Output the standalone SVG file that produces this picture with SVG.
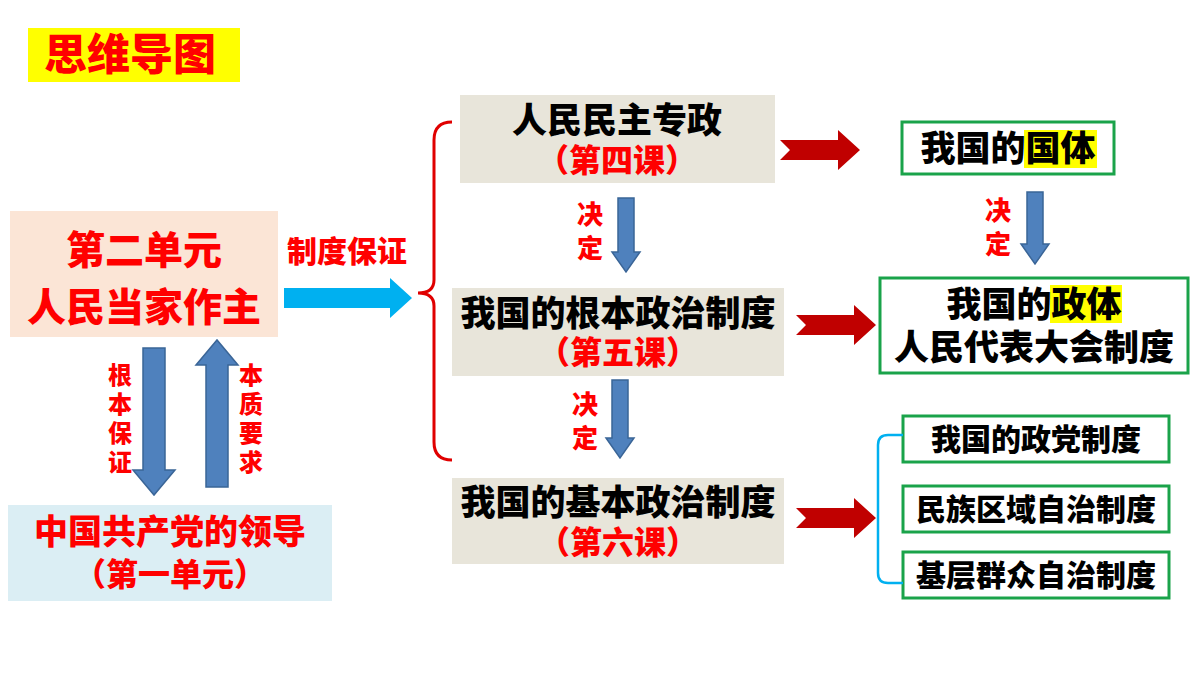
<svg xmlns="http://www.w3.org/2000/svg" width="1200" height="675" viewBox="0 0 1200 675">
<style>
text{font-family:"Liberation Sans","Noto Sans CJK SC",sans-serif;font-weight:900;text-anchor:middle}
.r{fill:#ff0000}.k{fill:#000}
.beige{fill:#e8e5da}
.gb{fill:#fff;stroke:#1aa34a;stroke-width:3}
.ba{fill:#4f81bd;stroke:#3a6597;stroke-width:1.5}
.ra{fill:#c00000}
</style>
<rect width="1200" height="675" fill="#fff"/>
<g id="title"><rect x="28" y="28" width="212" height="54" fill="#ffff00"/><text x="130" y="70" class="r" font-size="43">思维导图</text></g>
<g id="unit2"><rect x="10" y="211" width="268" height="126" fill="#fbe5d6"/><text x="144" y="264" class="r" font-size="39">第二单元</text><text x="144" y="321" class="r" font-size="39">人民当家作主</text></g>
<g id="unit1"><rect x="8" y="505" width="324" height="96" fill="#dbeef4"/><text x="170" y="544" class="r" font-size="34">中国共产党的领导</text><text x="170" y="586" class="r" font-size="32">（第一单元）</text></g>
<g id="b1"><rect x="460" y="95" width="315" height="88" class="beige"/><text x="617" y="133" class="k" font-size="35">人民民主专政</text><text x="617" y="172" class="r" font-size="32">（第四课）</text></g>
<g id="b2"><rect x="452" y="288" width="332" height="88" class="beige"/><text x="618" y="326" class="k" font-size="35">我国的根本政治制度</text><text x="618" y="364" class="r" font-size="32">（第五课）</text></g>
<g id="b3"><rect x="452" y="478" width="332" height="86" class="beige"/><text x="618" y="515" class="k" font-size="35">我国的基本政治制度</text><text x="618" y="554" class="r" font-size="32">（第六课）</text></g>
<g id="g1"><rect x="902" y="122" width="212" height="52" class="gb"/><rect x="1024" y="130" width="73" height="38" fill="#ffff00"/><text x="1008" y="161" class="k" font-size="35">我国的国体</text></g>
<g id="g2"><rect x="880" y="278" width="308" height="95" class="gb"/><rect x="1050" y="285" width="72" height="38" fill="#ffff00"/><text x="1034" y="317" class="k" font-size="35">我国的政体</text><text x="1034" y="360" class="k" font-size="35">人民代表大会制度</text></g>
<g id="g3"><rect x="903" y="416" width="266" height="46" class="gb"/><text x="1036" y="450" class="k" font-size="30">我国的政党制度</text></g>
<g id="g4"><rect x="903" y="486" width="266" height="46" class="gb"/><text x="1036" y="520" class="k" font-size="30">民族区域自治制度</text></g>
<g id="g5"><rect x="903" y="552" width="266" height="46" class="gb"/><text x="1036" y="586" class="k" font-size="30">基层群众自治制度</text></g>
<g id="connectors">
<polygon class="ba" points="143,348 165,348 165,470 175,470 154,495 133,470 143,470"/>
<polygon class="ba" points="206,487 228,487 228,365 238,365 217,340 196,365 206,365"/>
<g class="r" font-size="24"><text x="120" y="384">根</text><text x="120" y="413">本</text><text x="120" y="442">保</text><text x="120" y="471">证</text>
<text x="251" y="384">本</text><text x="251" y="413">质</text><text x="251" y="442">要</text><text x="251" y="471">求</text></g>
<polygon fill="#00b0f0" points="284,288 390,288 390,278 412,298 390,318 390,308 284,308"/>
<text x="347" y="262" class="r" font-size="30">制度保证</text>
<path d="M452,122 Q434,122 434,140 L434,280 Q434,293 418,293 Q434,293 434,306 L434,442 Q434,460 452,460" fill="none" stroke="#e00000" stroke-width="3"/>
<polygon class="ba" points="618,198 634,198 634,252 640,252 626,272 612,252 618,252"/>
<text x="590" y="224" class="r" font-size="26">决</text><text x="590" y="258" class="r" font-size="26">定</text>
<polygon class="ba" points="612,380 628,380 628,438 634,438 620,458 606,438 612,438"/>
<text x="585" y="414" class="r" font-size="26">决</text><text x="585" y="448" class="r" font-size="26">定</text>
<polygon class="ba" points="1027,192 1043,192 1043,244 1049,244 1035,264 1021,244 1027,244"/>
<text x="998" y="220" class="r" font-size="26">决</text><text x="998" y="254" class="r" font-size="26">定</text>
<polygon class="ra" points="780,140 838,140 838,130 860,150 838,170 838,160 780,160 790,150"/>
<polygon class="ra" points="796,315 854,315 854,305 876,325 854,345 854,335 796,335 806,325"/>
<polygon class="ra" points="796,508 854,508 854,498 876,518 854,538 854,528 796,528 806,518"/>
<path d="M903,435 L888,435 Q878,435 878,445 L878,573 Q878,583 888,583 L903,583" fill="none" stroke="#00b0f0" stroke-width="2.5"/>
</g>
</svg>
